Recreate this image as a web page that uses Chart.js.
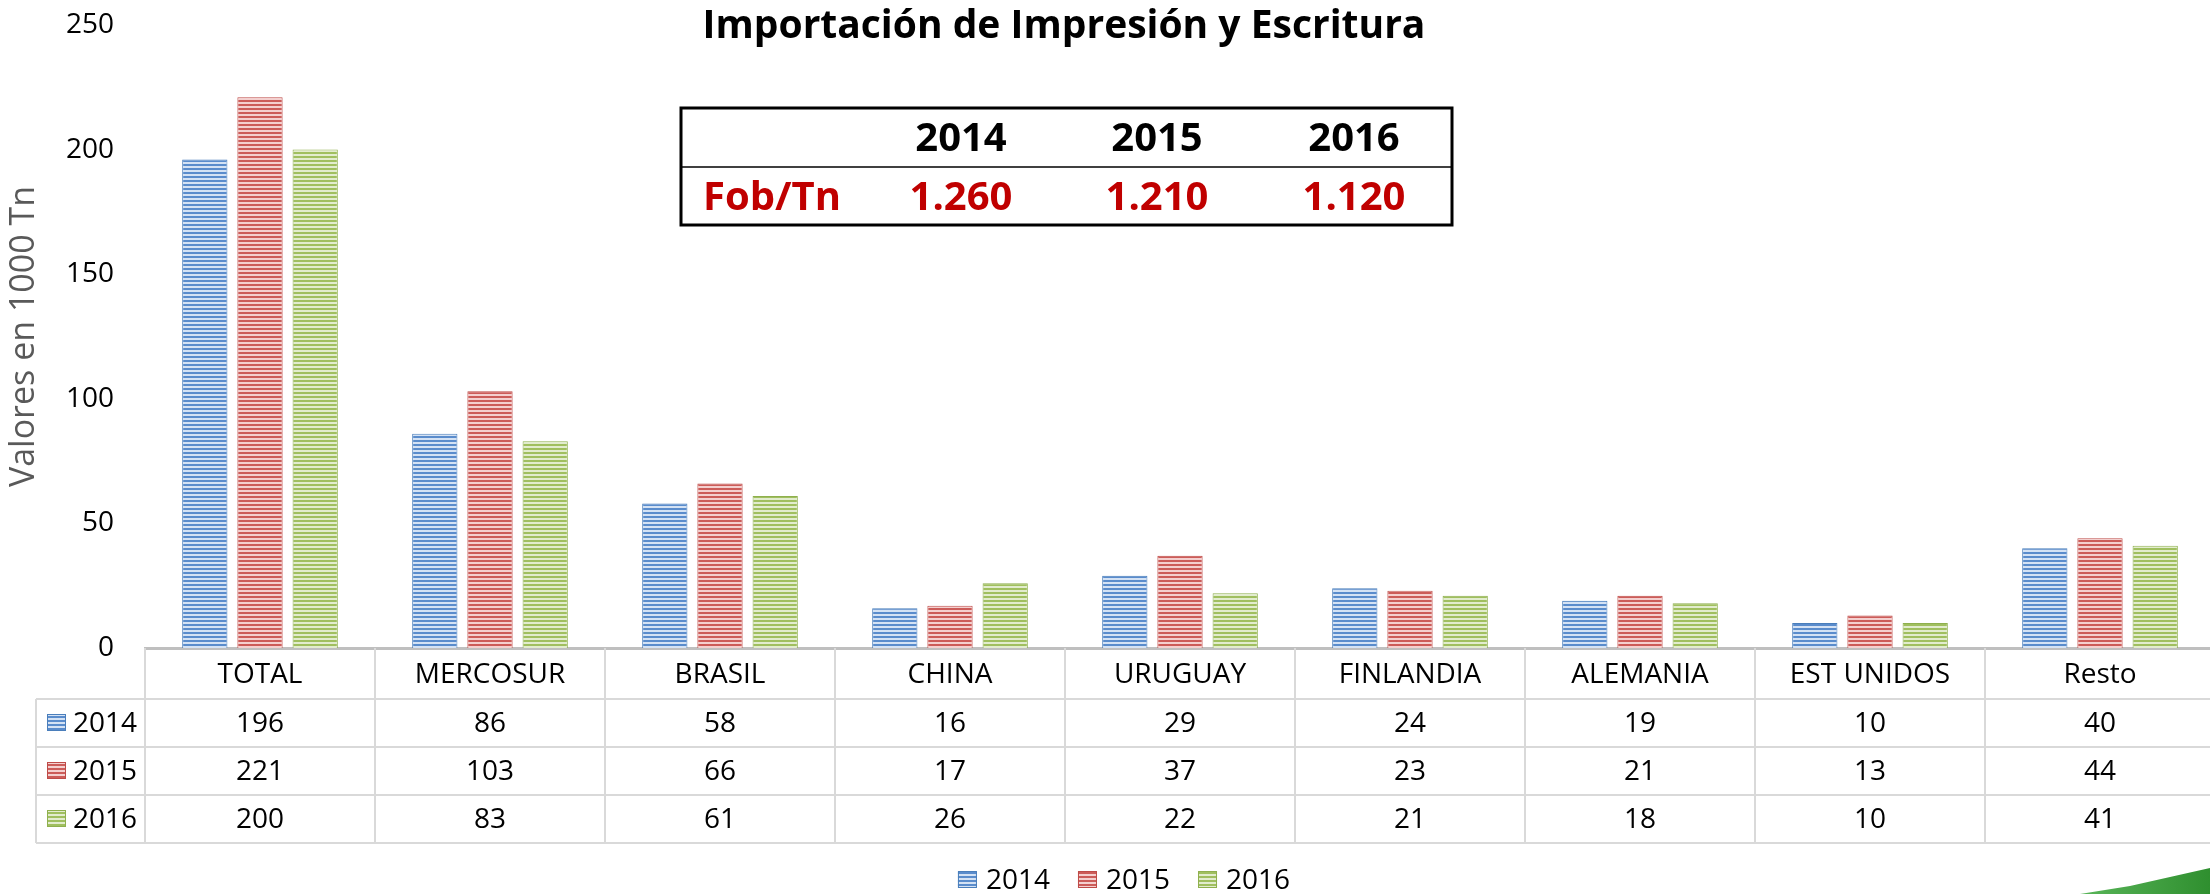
<!DOCTYPE html>
<html>
<head>
<meta charset="utf-8">
<script src="https://cdn.jsdelivr.net/npm/chart.js@4.4.1/dist/chart.umd.min.js"></script>
<style>
  html, body { margin: 0; padding: 0; background: #fff; overflow: hidden; }
  #wrap { position: relative; width: 2210px; height: 894px; overflow: hidden; }
  #chart { position: absolute; left: 0; top: 0; }
  #swoosh {
    position: absolute; left: 2070px; top: 858px; width: 140px; height: 36px;
    background: linear-gradient(90deg, #5cb85c, #2f8f2f);
    clip-path: polygon(10px 36px, 60px 28px, 140px 10px, 140px 36px);
  }
</style>
</head>
<body>
<div id="wrap">
  <canvas id="chart" width="2216" height="894"></canvas>
  <div id="swoosh"></div>
</div>
<script>
// Importación de Impresión y Escritura — barras por origen, con tabla de datos abajo

const CATEGORIES = ['TOTAL', 'MERCOSUR', 'BRASIL', 'CHINA', 'URUGUAY', 'FINLANDIA', 'ALEMANIA', 'EST UNIDOS', 'Resto']
const YEARS = ['2014', '2015', '2016']
const V2014 = [196, 86, 58, 16, 29, 24, 19, 10, 40]
const V2015 = [221, 103, 66, 17, 37, 23, 21, 13, 44]
const V2016 = [200, 83, 61, 26, 22, 21, 18, 10, 41]
const Y_TICKS = [0, 50, 100, 150, 200, 250]

const TITLE = 'Importación de Impresión y Escritura'
const Y_TITLE = 'Valores en 1000 Tn'
const FOB_LABEL = 'Fob/Tn'
const FOB_VALUES = ['1.260', '1.210', '1.120']

const FONT = '"Open Sans", "DejaVu Sans", sans-serif'
const GRID = '#d9d9d9'

const canvas = document.getElementById('chart')
const ctx = canvas.getContext('2d')

// rayas horizontales tipo Excel
function stripes(dark, light) {
  const c = document.createElement('canvas')
  c.width = 4
  c.height = 4
  const g = c.getContext('2d')
  g.fillStyle = light
  g.fillRect(0, 0, 4, 4)
  g.fillStyle = dark
  g.fillRect(0, 0, 4, 2)
  return ctx.createPattern(c, 'repeat')
}

const COLORS = [
  { dark: '#5a8ccc', light: '#d4e2f4', border: '#4a7ebb' },
  { dark: '#cc5c59', light: '#f4d0cf', border: '#be4b48' },
  { dark: '#a0bf5f', light: '#e2ecce', border: '#8fb04e' },
]
const SERIES = [V2014, V2015, V2016]

const datasets = SERIES.map((values, i) => ({
  label: YEARS[i],
  data: values,
  backgroundColor: stripes(COLORS[i].dark, COLORS[i].light),
  borderColor: COLORS[i].border,
  borderWidth: 1,
  categoryPercentage: 0.72,
  barPercentage: 0.82,
}))

function drawKey(c, x, y, i) {
  c.fillStyle = datasets[i].backgroundColor
  c.fillRect(x, y, 19, 17)
  c.strokeStyle = COLORS[i].border
  c.lineWidth = 1
  c.strokeRect(x + 0.5, y + 0.5, 18, 16)
}

// título + recuadro Fob/Tn
const headerPlugin = {
  id: 'header',
  afterDraw(chart) {
    const c = chart.ctx
    c.save()
    c.textAlign = 'center'
    c.textBaseline = 'middle'
    c.fillStyle = '#000'
    c.font = `bold 39px ${FONT}`
    c.fillText(TITLE, 1064, 27)

    c.strokeStyle = '#000'
    c.lineWidth = 3
    c.strokeRect(681, 108, 771, 117)
    c.lineWidth = 1.5
    c.beginPath()
    c.moveTo(681, 167)
    c.lineTo(1452, 167)
    c.stroke()

    c.font = `bold 40px ${FONT}`
    const cols = [961, 1157, 1354]
    YEARS.forEach((y, i) => c.fillText(y, cols[i], 140))
    c.fillStyle = '#c00000'
    c.fillText(FOB_LABEL, 772, 199)
    FOB_VALUES.forEach((v, i) => c.fillText(v, cols[i], 199))
    c.restore()
  },
}

// tabla de datos debajo del eje x + leyenda
const tablePlugin = {
  id: 'dataTable',
  afterDraw(chart) {
    const c = chart.ctx
    const x = chart.scales.x
    const top = chart.chartArea.bottom
    const headH = 51
    const rowH = 48
    const keyLeft = 36
    const n = CATEGORIES.length
    const colW = (x.right - x.left) / n
    const bottom = top + headH + rowH * SERIES.length

    c.save()
    c.strokeStyle = GRID
    c.lineWidth = 2
    c.beginPath()
    for (let i = 0; i <= n; i++) {
      const xx = Math.round(x.left + i * colW)
      c.moveTo(xx, top)
      c.lineTo(xx, bottom)
    }
    c.moveTo(keyLeft, top + headH)
    c.lineTo(keyLeft, bottom)
    for (let r = 0; r <= SERIES.length; r++) {
      const yy = top + headH + r * rowH
      c.moveTo(keyLeft, yy)
      c.lineTo(x.right, yy)
    }
    c.stroke()

    c.font = `28px ${FONT}`
    c.fillStyle = '#000'
    c.textBaseline = 'middle'
    SERIES.forEach((values, r) => {
      const cy = top + headH + r * rowH + rowH / 2
      drawKey(c, 47, cy - 9, r)
      c.fillStyle = '#000'
      c.textAlign = 'left'
      c.fillText(YEARS[r], 73, cy + 1)
      c.textAlign = 'center'
      values.forEach((v, i) => {
        c.fillText(String(v), x.getPixelForValue(i), cy + 1)
      })
    })

    // leyenda
    const ly = 880
    const widths = YEARS.map(t => 19 + 9 + c.measureText(t).width)
    const total = widths.reduce((a, b) => a + b, 0) + 28 * (YEARS.length - 1)
    let lx = 1124 - total / 2
    c.textAlign = 'left'
    YEARS.forEach((t, i) => {
      drawKey(c, lx, ly - 9, i)
      c.fillStyle = '#000'
      c.fillText(t, lx + 28, ly + 1)
      lx += widths[i] + 28
    })
    c.restore()
  },
}

new Chart(canvas, {
  type: 'bar',
  data: { labels: CATEGORIES, datasets },
  options: {
    responsive: false,
    animation: false,
    layout: { padding: { top: 25, left: 0, right: 1, bottom: 51 } },
    plugins: {
      legend: { display: false },
      tooltip: { enabled: false },
    },
    scales: {
      x: {
        grid: { display: false, drawTicks: false },
        border: { display: true, color: '#bfbfbf', width: 3 },
        ticks: { color: '#000', font: { family: FONT, size: 28 }, padding: 10, maxRotation: 0, autoSkip: false },
        afterFit: scale => { scale.height = 195 },
      },
      y: {
        min: 0,
        max: 250,
        // sin marcas visibles; tickLength solo separa las etiquetas del área
        grid: { display: false, drawTicks: true, tickLength: 31 },
        border: { display: false },
        afterBuildTicks: scale => { scale.ticks = Y_TICKS.map(v => ({ value: v })) },
        ticks: { color: '#000', font: { family: FONT, size: 28 }, padding: 0 },
        title: {
          display: true,
          text: Y_TITLE,
          color: '#595959',
          font: { family: FONT, size: 34 },
          padding: { top: 4, bottom: 0 },
        },
        afterFit: scale => { scale.width = 145 },
      },
    },
  },
  plugins: [headerPlugin, tablePlugin],
})
</script>
</body>
</html>
